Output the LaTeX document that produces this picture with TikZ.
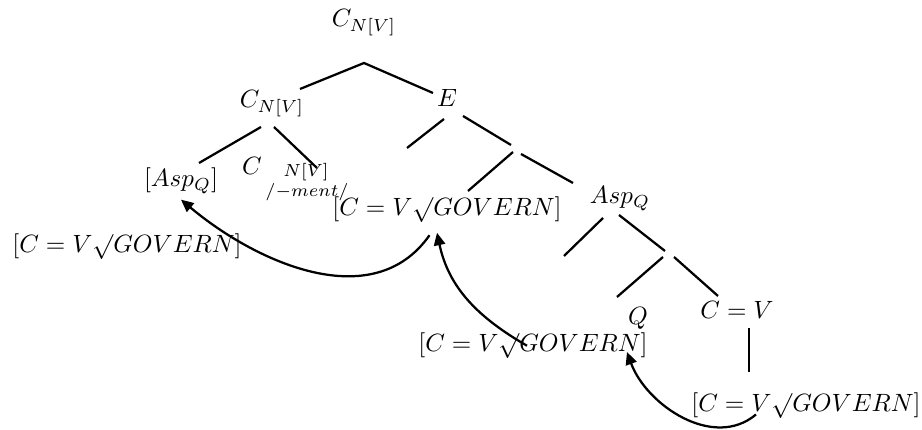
\documentclass[tikz,border=0pt]{standalone}
\usepackage{amsmath,amssymb}
\usepackage{tikz}
\usetikzlibrary{arrows.meta}

\tikzset{
    lbl/.style={anchor=base, inner sep=2pt},
    branch/.style={line width=0.9pt},
    move/.style={line width=0.9pt, -{Triangle[length=5pt,width=4.5pt]}}
}

\begin{document}
\begin{tikzpicture}[x=0.4pt, y=-0.4pt]
    \useasboundingbox (0,0) rectangle (922,430);
    % labels
    \node[lbl] (root)    at (364,27)  {$C_{N[V]}$};
    \node[lbl] (cn)      at (272,108) {$C_{N[V]}$};
    \node[lbl] (e)       at (447,107) {$E$};
    \node[lbl] (aspbr)   at (181,187) {$[Asp_Q]$};
    \node[lbl] (cc)      at (252,175) {$C$};
    \node[lbl, inner sep=0pt] (cnv)  at (306,177) {$\scriptstyle N[V]$};
    \node[lbl, inner sep=0pt] (ment) at (307,197) {$\scriptstyle /{-}ment/$};
    \node[lbl] (govmid)  at (447,216) {$[C = V\surd GOVERN]$};
    \node[lbl] (govleft) at (127,253) {$[C = V\surd GOVERN]$};
    \node[lbl] (aspq)    at (620,204) {$Asp_Q$};
    \node[lbl] (q)       at (638,325) {$Q$};
    \node[lbl] (cv)      at (737,319) {$C = V$};
    \node[lbl] (govlow)  at (533,352) {$[C = V\surd GOVERN]$};
    \node[lbl] (govbot)  at (806,412) {$[C = V\surd GOVERN]$};
    % branch ends
    \foreach \n/\x/\y in {rl/300/89, rt/364/63, rr/433/93,
        cl1/199/163, cl2/261/127, cr1/274/127, cr2/317/168,
        el1/407/148, el2/444/119, er1/463/116, er2/511/145,
        xl1/468/191, xl2/513/152, xr1/521/154, xr2/573/183,
        al1/564/256, al2/603/218, ar1/619/215, ar2/665/251,
        yl1/617/297, yl2/663/257, yr1/674/257, yr2/718/296,
        v1/749/328, v2/749/372}
        \coordinate (\n) at (\x,\y);
    \draw[branch] (rl) -- (rt) -- (rr);
    \draw[branch] (cl1) -- (cl2);
    \draw[branch] (cr1) -- (cr2);
    \draw[branch] (el1) -- (el2);
    \draw[branch] (er1) -- (er2);
    \draw[branch] (xl1) -- (xl2);
    \draw[branch] (xr1) -- (xr2);
    \draw[branch] (al1) -- (al2);
    \draw[branch] (ar1) -- (ar2);
    \draw[branch] (yl1) -- (yl2);
    \draw[branch] (yr1) -- (yr2);
    \draw[branch] (v1) -- (v2);
    % movement arrows
    \draw[move] ([shift={(-7pt,-3pt)}]govmid.south) to[out=235, in=-40] (aspbr.south);
    \draw[move] ([xshift=-2.4pt]govlow.center) to[out=150, in=-78] ([shift={(-4pt,-2pt)}]govmid.south);
    \draw[move] ([shift={(-20pt,-1pt)}]govbot.base) to[out=220, in=-70] ([xshift=37.6pt]govlow.base);
\end{tikzpicture}
\end{document}
